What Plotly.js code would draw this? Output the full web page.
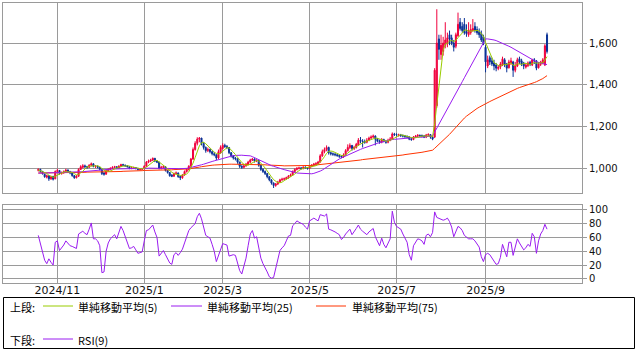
<!DOCTYPE html>
<html><head><meta charset="utf-8">
<script src="https://cdn.plot.ly/plotly-3.0.1.min.js"></script>
<style>html,body{margin:0;padding:0;background:#fff;}#chart{width:638px;height:352px;}</style>
</head><body><div id="chart"></div>
<script>
// month-start positions (trading-day index) and labels
const tickIdx = [9, 50, 87, 128, 169, 211];
const tickLabels = ['2024/11', '2025/1', '2025/3', '2025/5', '2025/7', '2025/9'];
const priceTicks = [1000, 1200, 1400, 1600];
const rsiTicks = [0, 20, 40, 60, 80, 100];
const seriesNames = ['単純移動平均(5)', '単純移動平均(25)', '単純移動平均(75)', 'RSI(9)'];
const sectionLabels = ['上段:', '下段:'];

const open = [
990,995,985,972,958,965,950,962,950,985,
990,975,978,985,992,985,978,965,955,962,
995,1005,1012,1008,1005,1015,1022,1008,1010,1005,
995,978,972,988,995,1000,1005,1008,1002,1010,
1018,1015,1012,1008,1000,1002,1004,1000,995,996,
997,1010,1030,1035,1040,1048,1035,1030,1000,1005,
1008,990,980,968,962,975,978,962,955,968,
985,995,1010,1045,1090,1120,1140,1145,1120,1100,
1085,1090,1080,1070,1065,1050,1075,1095,1110,1105,
1100,1075,1060,1050,1045,1030,1010,1005,1012,1020,
1030,1040,1045,1035,1038,1015,995,985,975,960,
945,930,918,925,935,945,948,950,955,962,
968,985,995,1000,1002,1000,1005,1003,1000,1010,
1015,1020,1022,1030,1060,1080,1090,1100,1075,1070,
1068,1065,1062,1058,1055,1065,1085,1100,1110,1095,
1100,1112,1135,1130,1128,1125,1135,1145,1150,1155,
1140,1130,1125,1138,1130,1125,1135,1140,1165,1162,
1158,1160,1158,1155,1152,1150,1140,1138,1150,1155,
1158,1157,1155,1150,1160,1162,1150,1150,1300,1620,
1545,1560,1590,1600,1640,1625,1600,1585,1635,1700,
1680,1690,1655,1640,1650,1660,1680,1665,1655,1645,
1630,1580,1490,1530,1515,1505,1495,1478,1485,1495,
1520,1500,1482,1505,1510,1470,1490,1525,1515,1505,
1485,1492,1508,1495,1520,1515,1482,1498,1505,1495,
1640];
const high = [
1000,998,988,975,970,966,965,963,990,998,
992,985,990,998,995,988,980,968,968,1000,
1015,1020,1018,1012,1020,1028,1024,1016,1014,1008,
998,982,992,1000,1005,1010,1012,1010,1015,1022,
1022,1018,1015,1010,1008,1008,1006,1002,1000,1002,
1015,1035,1042,1046,1052,1050,1040,1032,1012,1015,
1010,992,982,972,980,985,980,965,972,990,
1000,1015,1050,1100,1130,1149,1150,1146,1125,1105,
1100,1095,1085,1078,1068,1090,1110,1120,1118,1112,
1102,1078,1064,1055,1048,1032,1015,1018,1026,1036,
1046,1050,1048,1044,1040,1018,1000,990,978,962,
948,932,930,940,950,955,956,960,968,975,
990,1000,1006,1008,1006,1010,1010,1006,1015,1020,
1026,1030,1036,1068,1090,1100,1110,1104,1080,1076,
1074,1070,1066,1062,1072,1092,1115,1120,1112,1108,
1122,1145,1150,1140,1138,1145,1152,1158,1162,1158,
1145,1138,1145,1142,1136,1142,1150,1172,1170,1168,
1166,1165,1162,1160,1158,1154,1146,1155,1160,1164,
1162,1162,1160,1165,1168,1164,1155,1480,1762,1640,
1640,1630,1700,1650,1660,1640,1615,1650,1746,1720,
1700,1720,1690,1700,1690,1715,1700,1680,1670,1660,
1640,1590,1540,1540,1530,1520,1505,1495,1510,1535,
1528,1505,1520,1530,1515,1510,1530,1535,1525,1510,
1505,1512,1515,1525,1528,1518,1510,1515,1528,1595,
1650];
const low = [
985,980,970,955,952,940,945,942,948,980,
970,970,975,982,980,972,960,950,952,960,
992,1000,1002,998,1002,1010,1005,1002,1000,990,
968,965,970,985,990,996,1000,998,1000,1006,
1010,1008,1004,996,996,998,995,990,990,992,
995,1008,1025,1030,1035,1030,1025,995,995,1000,
985,975,960,958,960,970,955,944,950,965,
980,990,1008,1040,1085,1110,1125,1110,1090,1075,
1078,1072,1062,1058,1040,1045,1070,1090,1098,1092,
1068,1052,1042,1038,1022,1002,998,1000,1008,1015,
1025,1035,1028,1030,1008,988,978,968,952,938,
922,906,912,920,930,940,942,946,950,958,
965,980,990,995,994,995,998,994,996,1005,
1010,1014,1018,1028,1055,1072,1082,1066,1062,1060,
1058,1055,1050,1048,1050,1060,1080,1092,1085,1088,
1095,1108,1120,1100,1118,1120,1130,1138,1145,1110,
1125,1118,1120,1125,1118,1120,1130,1138,1155,1152,
1152,1150,1148,1146,1144,1135,1132,1135,1145,1150,
1150,1148,1145,1145,1155,1142,1135,1145,1290,1520,
1520,1540,1575,1580,1590,1590,1560,1575,1630,1660,
1650,1640,1630,1630,1640,1655,1650,1640,1625,1605,
1590,1460,1480,1495,1490,1470,1465,1470,1475,1490,
1485,1460,1478,1495,1438,1460,1485,1500,1490,1475,
1478,1485,1490,1490,1500,1470,1478,1490,1498,1490,
1550];
const close = [
995,985,975,960,965,950,960,948,985,990,
975,978,985,992,985,978,965,955,962,995,
1008,1012,1008,1005,1015,1022,1010,1010,1005,995,
975,972,988,995,1000,1005,1008,1002,1010,1018,
1015,1012,1008,1000,1002,1004,1000,995,996,997,
1010,1030,1035,1040,1048,1035,1030,1000,1005,1008,
990,980,965,962,975,978,960,955,968,985,
995,1010,1045,1090,1120,1140,1145,1120,1100,1085,
1090,1080,1070,1065,1050,1080,1100,1110,1105,1100,
1075,1060,1050,1045,1030,1010,1005,1012,1020,1030,
1040,1045,1035,1038,1015,995,985,975,960,945,
930,918,925,935,945,948,950,955,962,968,
985,995,1000,1002,1000,1005,1003,1000,1010,1015,
1020,1022,1030,1060,1080,1090,1100,1075,1070,1068,
1065,1062,1058,1055,1065,1085,1100,1110,1095,1100,
1115,1135,1130,1128,1125,1135,1145,1150,1155,1140,
1130,1125,1138,1130,1125,1135,1140,1165,1162,1160,
1160,1158,1155,1152,1150,1140,1138,1150,1155,1158,
1157,1155,1150,1160,1162,1150,1140,1470,1600,1570,
1590,1600,1615,1625,1620,1600,1580,1640,1690,1670,
1660,1650,1645,1660,1665,1670,1660,1650,1640,1615,
1600,1510,1520,1510,1500,1490,1480,1485,1500,1525,
1495,1480,1510,1515,1470,1490,1520,1510,1500,1490,
1495,1505,1500,1520,1515,1480,1500,1510,1520,1587,
1560];
const ma5 = [
992,990,985,980,976,967,962,957,962,967,
972,975,983,984,983,984,981,975,969,971,
977,986,997,1006,1010,1012,1012,1012,1012,1008,
999,991,987,985,986,992,999,1002,1005,1009,
1011,1011,1013,1011,1007,1005,1003,1000,999,998,
1000,1006,1014,1022,1033,1038,1038,1031,1024,1016,
1007,997,990,981,974,972,968,966,967,969,
973,983,1001,1025,1052,1081,1108,1123,1125,1118,
1108,1095,1085,1078,1071,1069,1073,1081,1089,1099,
1098,1090,1078,1066,1052,1039,1028,1020,1015,1015,
1021,1029,1034,1038,1035,1026,1014,1002,986,972,
959,946,936,931,931,934,941,947,952,957,
964,973,982,990,996,1000,1002,1002,1004,1007,
1010,1013,1019,1029,1042,1056,1072,1081,1083,1081,
1076,1068,1065,1062,1061,1065,1073,1083,1091,1098,
1104,1111,1115,1122,1127,1131,1133,1137,1142,1145,
1144,1140,1138,1133,1130,1131,1134,1139,1145,1152,
1157,1161,1159,1157,1155,1151,1147,1146,1147,1148,
1152,1155,1155,1156,1157,1155,1152,1216,1304,1386,
1474,1566,1595,1600,1610,1612,1608,1613,1626,1636,
1648,1662,1663,1657,1656,1658,1660,1661,1657,1647,
1633,1603,1577,1551,1528,1506,1500,1493,1491,1496,
1497,1497,1502,1505,1494,1493,1501,1501,1498,1502,
1503,1500,1498,1502,1507,1504,1503,1505,1505,1519,
1535];
const ma25 = [
977,977,978,978,978,979,979,979,980,980,
980,980,981,981,981,982,982,982,983,983,
983,984,985,986,988,990,991,992,993,994,
995,995,996,996,996,997,997,997,998,998,
998,998,999,999,999,999,1000,1000,1000,1000,
1000,1000,1001,1001,1001,1002,1002,1002,1002,1002,
1001,1001,1000,1000,999,999,998,998,998,999,
1000,1002,1004,1006,1008,1011,1014,1017,1020,1024,
1027,1030,1033,1036,1039,1042,1045,1048,1051,1054,
1057,1059,1061,1062,1063,1063,1063,1062,1062,1061,
1060,1056,1051,1045,1040,1035,1030,1025,1021,1017,
1013,1010,1006,1003,1000,997,994,991,988,985,
982,980,978,977,976,975,974,973,973,974,
976,979,983,987,992,999,1006,1012,1019,1026,
1033,1040,1045,1050,1055,1060,1065,1070,1074,1079,
1083,1087,1091,1095,1099,1103,1107,1111,1114,1117,
1120,1123,1126,1129,1132,1135,1136,1138,1139,1140,
1142,1143,1145,1146,1146,1147,1147,1148,1148,1149,
1149,1150,1151,1152,1153,1154,1155,1174,1192,1211,
1229,1248,1267,1285,1304,1322,1341,1360,1378,1397,
1415,1434,1453,1471,1490,1508,1527,1546,1564,1583,
1601,1620,1620,1619,1617,1615,1612,1608,1604,1600,
1595,1590,1585,1580,1574,1568,1563,1557,1550,1543,
1536,1530,1524,1520,1515,1510,1507,1504,1501,1499,
1497];
const ma75 = [
978,978,978,978,978,979,979,979,979,979,
979,979,980,980,980,980,980,980,981,981,
981,981,981,982,982,982,982,982,983,983,
983,983,984,984,984,984,985,985,985,985,
986,986,986,987,987,987,988,988,989,989,
990,990,991,991,991,992,992,992,992,993,
993,993,993,993,994,994,994,995,995,996,
997,998,999,1000,1002,1004,1006,1008,1010,1012,
1013,1014,1015,1016,1017,1018,1019,1019,1020,1020,
1020,1020,1020,1020,1020,1020,1020,1020,1020,1020,
1020,1020,1019,1019,1018,1018,1017,1017,1016,1016,
1015,1015,1014,1014,1013,1013,1012,1012,1012,1011,
1011,1011,1011,1011,1011,1012,1012,1013,1013,1014,
1015,1016,1017,1018,1019,1020,1021,1022,1023,1024,
1025,1026,1028,1029,1030,1032,1033,1034,1035,1037,
1038,1039,1040,1042,1043,1044,1045,1046,1047,1049,
1050,1051,1052,1053,1055,1056,1057,1058,1059,1061,
1062,1063,1064,1066,1067,1068,1070,1071,1072,1074,
1075,1077,1079,1081,1083,1085,1087,1096,1105,1114,
1123,1132,1142,1152,1163,1174,1186,1198,1210,1222,
1232,1241,1250,1258,1266,1274,1281,1287,1293,1299,
1304,1310,1315,1320,1325,1330,1335,1340,1345,1350,
1356,1361,1366,1371,1375,1379,1383,1387,1390,1393,
1397,1400,1404,1408,1411,1415,1419,1424,1430,1437,
1444];
const rsi9 = [
63,50,38,27,22,29,24,20,53,55,
41,45,49,55,52,48,47,45,44,65,
67,69,66,64,72,81,58,58,55,48,
9,10,40,52,58,61,64,58,66,76,
70,62,55,44,45,47,42,37,38,39,
55,70,71,74,78,68,60,33,38,41,
35,30,23,21,35,38,34,38,43,52,
62,70,74,77,80,90,95,87,75,63,
61,59,50,40,25,34,45,51,50,49,
33,34,35,34,22,12,7,18,30,48,
65,70,59,61,45,30,22,17,10,3,
1,2,15,30,41,45,48,55,62,63,
77,80,84,82,81,79,75,72,84,86,
88,86,84,93,92,91,94,72,71,70,
68,66,64,57,60,65,69,72,64,68,
73,78,72,69,66,64,68,71,73,61,
53,48,59,50,45,52,58,98,82,76,
74,72,65,58,53,35,27,48,53,58,
57,55,50,63,65,61,67,97,89,88,
86,85,86,88,83,75,61,70,76,74,
70,63,60,58,58,58,55,50,46,32,
25,35,37,35,30,25,21,22,31,50,
40,32,53,53,34,45,58,52,47,42,
45,50,47,66,61,37,55,65,70,79,
72];

const idx = close.map((_, i) => i);
const C_UP = '#f0003c', C_DN = '#0a3296';
const C_MA5 = '#99cc00', C_MA25 = '#9a1cf0', C_MA75 = '#ff3300', C_RSI = '#9a1cf0';
const GRID = '#9a9a9a';

const W = 638, H = 352, ML = 3, MR = 56, MT = 3, MB = 69;
const PW = W - ML - MR, PH = H - MT - MB;
const px = v => (v - ML) / PW;
const py = v => (H - MB - v) / PH;

const traces = [
  {type: 'candlestick', x: idx, open: open, high: high, low: low, close: close,
   xaxis: 'x', yaxis: 'y', whiskerwidth: 0, hoverinfo: 'skip', showlegend: false,
   increasing: {line: {color: C_UP, width: 1}, fillcolor: C_UP},
   decreasing: {line: {color: C_DN, width: 1}, fillcolor: C_DN}},
  {type: 'scatter', mode: 'lines', x: idx, y: ma75, name: seriesNames[2], xaxis: 'x', yaxis: 'y', line: {color: C_MA75, width: 1}, hoverinfo: 'skip'},
  {type: 'scatter', mode: 'lines', x: idx, y: ma25, name: seriesNames[1], xaxis: 'x', yaxis: 'y', line: {color: C_MA25, width: 1}, hoverinfo: 'skip'},
  {type: 'scatter', mode: 'lines', x: idx, y: ma5, name: seriesNames[0], xaxis: 'x', yaxis: 'y', line: {color: C_MA5, width: 1}, hoverinfo: 'skip'},
  {type: 'scatter', mode: 'lines', x: idx, y: rsi9, name: seriesNames[3], xaxis: 'x2', yaxis: 'y2', line: {color: C_RSI, width: 1}, hoverinfo: 'skip'}
];

const tickFontY = {family: 'DejaVu Sans', size: 10, color: '#111'};
const tickFontX = {family: 'DejaVu Sans', size: 11, color: '#111'};
const xCommon = {range: [-16.65, 256.5], tickmode: 'array', tickvals: tickIdx, ticktext: tickLabels,
  showgrid: true, gridcolor: GRID, gridwidth: 1, showline: true, linecolor: GRID, linewidth: 1,
  mirror: true, zeroline: false, fixedrange: true};
const yCommon = {side: 'right', showgrid: true, gridcolor: GRID, gridwidth: 1, showline: true,
  linecolor: GRID, linewidth: 1, mirror: true, zeroline: false, ticks: 'outside', ticklen: 4,
  tickcolor: GRID, fixedrange: true, tickfont: tickFontY};

const mainBottom = 193, rsiTop = 205;
const layout = {
  width: W, height: H, margin: {l: ML, r: MR, t: MT, b: MB, pad: 0},
  paper_bgcolor: '#fff', plot_bgcolor: '#fff', showlegend: false,
  font: {family: 'DejaVu Sans', size: 11, color: '#111'},
  xaxis: Object.assign({}, xCommon, {anchor: 'y', showticklabels: false, ticks: '', rangeslider: {visible: false}}),
  xaxis2: Object.assign({}, xCommon, {anchor: 'y2', matches: 'x', showticklabels: true, ticks: '', tickfont: tickFontX, ticklabelstandoff: -3}),
  yaxis: Object.assign({}, yCommon, {domain: [py(mainBottom), 1], range: [882, 1792], tickmode: 'array', tickvals: priceTicks, tickformat: ',d'}),
  yaxis2: Object.assign({}, yCommon, {domain: [0, py(rsiTop)], range: [-6, 107], tickmode: 'array', tickvals: rsiTicks}),
  shapes: [
    {type: 'rect', xref: 'paper', yref: 'paper', x0: px(3.5), x1: px(634.5), y0: py(297.5), y1: py(348.5), line: {color: '#000', width: 1}, fillcolor: 'rgba(0,0,0,0)'},
    {type: 'line', xref: 'paper', yref: 'paper', x0: px(43), x1: px(73), y0: py(306), y1: py(306), line: {color: C_MA5, width: 1}},
    {type: 'line', xref: 'paper', yref: 'paper', x0: px(171), x1: px(202), y0: py(306), y1: py(306), line: {color: C_MA25, width: 1}},
    {type: 'line', xref: 'paper', yref: 'paper', x0: px(316), x1: px(346), y0: py(306), y1: py(306), line: {color: C_MA75, width: 1}},
    {type: 'line', xref: 'paper', yref: 'paper', x0: px(43), x1: px(73), y0: py(339), y1: py(339), line: {color: C_RSI, width: 1}}
  ],
  annotations: []
};
const legFont = {family: 'Noto Sans CJK JP', size: 11, color: '#000'};
const legItems = [
  [sectionLabels[0], 9, 306.5], [seriesNames[0], 77, 306.5], [seriesNames[1], 206, 306.5], [seriesNames[2], 351, 306.5],
  [sectionLabels[1], 9, 339.5], [seriesNames[3], 77, 339.5]
];
legItems.forEach(([t, x, y]) => layout.annotations.push({
  text: t, xref: 'paper', yref: 'paper', x: px(x), y: py(y), xanchor: 'left', yanchor: 'middle',
  showarrow: false, font: legFont, borderpad: 0
}));

Plotly.newPlot('chart', traces, layout, {displayModeBar: false, staticPlot: true});
</script>
</body></html>
